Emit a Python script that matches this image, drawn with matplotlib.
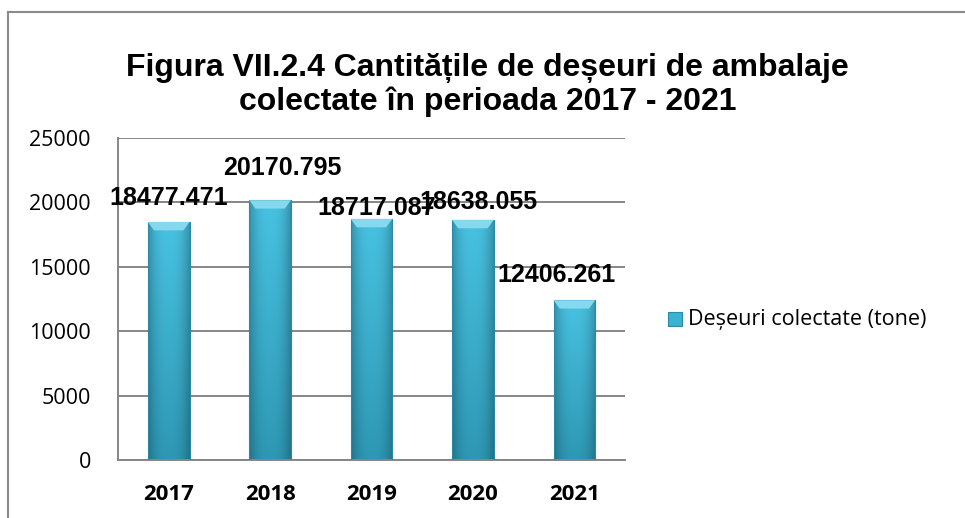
import numpy as np
import matplotlib.pyplot as plt
from matplotlib.patches import Rectangle, Polygon
from matplotlib.lines import Line2D

years = ['2017', '2018', '2019', '2020', '2021']
values = [18477.471, 20170.795, 18717.087, 18638.055, 12406.261]
value_labels = ['18477.471', '20170.795', '18717.087', '18638.055', '12406.261']
yticks = [0, 5000, 10000, 15000, 20000, 25000]
series_name = 'Deșeuri colectate (tone)'
title = 'Figura VII.2.4 Cantitățile de deșeuri de ambalaje\ncolectate în perioada 2017 - 2021'

# manual offsets (points) for the data labels, like the hand-placed ones in Excel
label_offsets = [(0, 17), (9, 23), (4, 8), (4, 13), (-13, 18)]

grey = '#868686'
bar_w = 0.41

fig = plt.figure(figsize=(9.65, 5.18), dpi=100)
ax = fig.add_axes([0.1223, 0.112, 0.5254, 0.6216])

ax.set_xlim(-0.5, len(years) - 0.5)
ax.set_ylim(0, 25000)

# bar body gradient: darker at the sides and toward the bottom
nx, ny = 64, 64
gx = np.linspace(-1, 1, nx)
gy = np.linspace(0, 1, ny)[:, None]
side = 1 - 0.25 * np.abs(gx) ** 2.5
top_c = np.array([0x48, 0xc2, 0xe2]) / 255
bot_c = np.array([0x2e, 0x98, 0xb4]) / 255
col = bot_c[None, None, :] * (1 - gy[..., None]) + top_c[None, None, :] * gy[..., None]
grad = np.clip(col * side[None, :, None], 0, 1)

bev_dx = 0.06
bev_dy = 650

for i, v in enumerate(values):
    x0, x1 = i - bar_w / 2, i + bar_w / 2
    rect = Rectangle((x0, 0), bar_w, v, facecolor='none', edgecolor='#2a8aa6', lw=0.8, zorder=3)
    ax.add_patch(rect)
    im = ax.imshow(grad, extent=(x0, x1, 0, v), origin='lower', aspect='auto', zorder=2,
                   interpolation='bilinear')
    im.set_clip_path(rect)
    # bevelled top
    ax.add_patch(Polygon([(x0, v), (x1, v), (x1 - bev_dx, v - bev_dy), (x0 + bev_dx, v - bev_dy)],
                         closed=True, facecolor='#86d8ee', edgecolor='none', zorder=3))
    dx, dy = label_offsets[i]
    ax.annotate(value_labels[i], xy=(i, v), xytext=(dx, dy), textcoords='offset points',
                ha='center', va='center', fontsize=18, fontweight='bold',
                family='Liberation Sans', color='black', zorder=5)

ax.set_xlim(-0.5, len(years) - 0.5)
ax.set_ylim(0, 25000)

ax.set_yticks(yticks)
ax.set_yticklabels([str(t) for t in yticks], family='Open Sans', fontsize=15.5)
ax.set_xticks(range(len(years)))
ax.set_xticklabels(years, family='Open Sans', fontsize=16, fontweight='bold')
ax.tick_params(length=0, pad=19.5, axis='y')
ax.tick_params(length=0, pad=17, axis='x')

ax.grid(axis='y', color=grey, lw=1.4)
ax.set_axisbelow(True)
for s in ['top', 'right']:
    ax.spines[s].set_visible(False)
for s in ['left', 'bottom']:
    ax.spines[s].set_color(grey)
    ax.spines[s].set_linewidth(1.4)

fig.text(0.505, 0.835, title, ha='center', va='center', fontsize=23, fontweight='bold',
         family='Liberation Sans', linespacing=1.15)

# legend entry
fig.patches.append(Rectangle((668 / 965, 1 - 326 / 518), 14 / 965, 14 / 518, transform=fig.transFigure,
                             facecolor='#3ab3d3', edgecolor='#2a8aa6', lw=0.8))
fig.text(688 / 965, 1 - 319 / 518, series_name, ha='left', va='center', fontsize=15.5, family='Open Sans')

# outer chart frame
fig.add_artist(Line2D([8 / 965, 1], [1 - 12 / 518] * 2, transform=fig.transFigure, color='#8a8a8a', lw=1.5))
fig.add_artist(Line2D([8 / 965] * 2, [0, 1 - 12 / 518], transform=fig.transFigure, color='#8a8a8a', lw=1.5))

fig.savefig('out.png', dpi=100, facecolor='white')
